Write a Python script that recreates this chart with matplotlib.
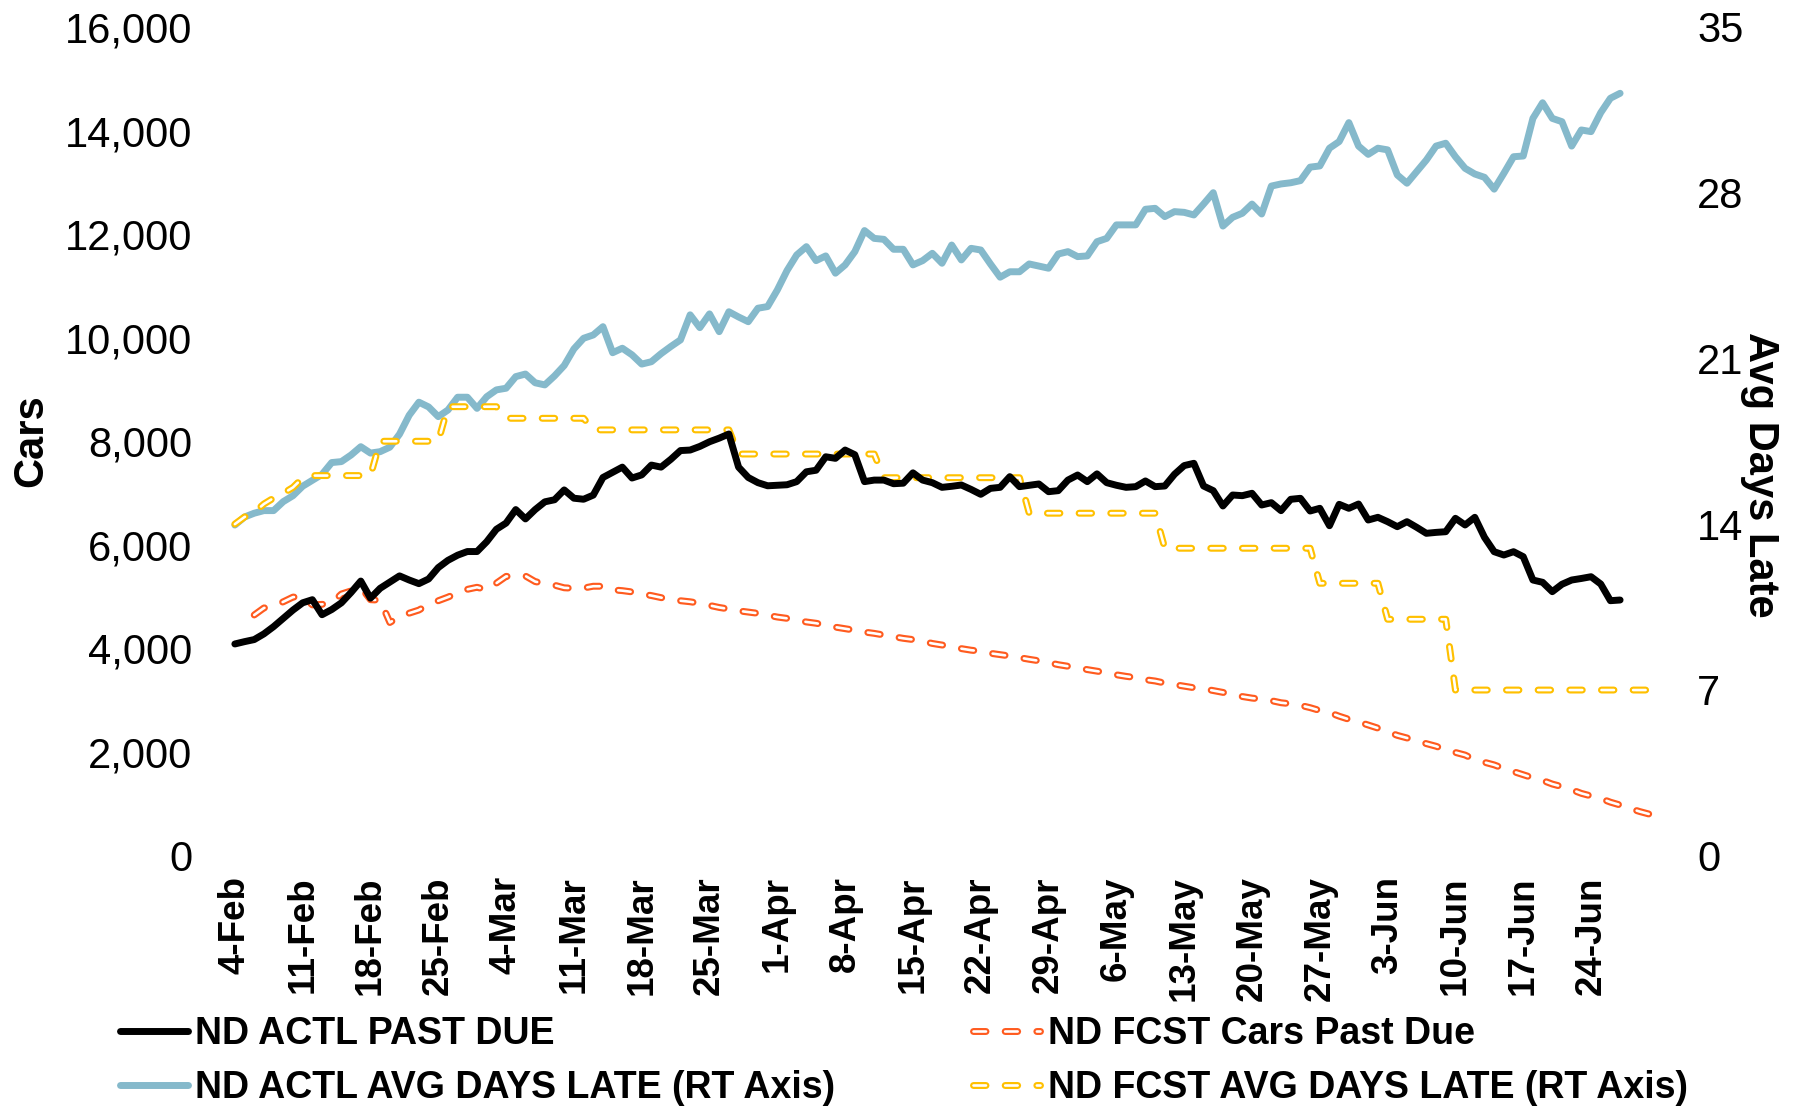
import matplotlib.pyplot as plt
import matplotlib.dates as mdates
import numpy as np
import pandas as pd
from matplotlib.ticker import FuncFormatter
from matplotlib.legend_handler import HandlerTuple

# fonts: Arial look-alike
plt.rcParams['font.family'] = ['Liberation Sans', 'DejaVu Sans']
plt.rcParams['lines.scale_dashes'] = False

# daily series, first day 4-Feb
actl_past_due = [
    4085, 4130, 4170, 4280, 4420, 4580, 4740, 4880, 4940, 4650,
    4750, 4880, 5080, 5300, 4970, 5160, 5280, 5400, 5320, 5250,
    5340, 5560, 5700, 5800, 5870, 5870, 6060, 6300, 6420, 6680,
    6500, 6680, 6830, 6870, 7060, 6900, 6880, 6960, 7300, 7400,
    7500, 7290, 7350, 7540, 7500, 7650, 7820, 7830, 7900, 7990,
    8060, 8140, 7500, 7300, 7200, 7140, 7150, 7160, 7220, 7410,
    7440, 7700, 7670, 7830, 7740, 7220, 7250, 7250, 7180, 7190,
    7390, 7250, 7200, 7110, 7130, 7155, 7070, 6975, 7090, 7110,
    7316, 7123, 7150, 7175, 7026, 7046, 7250, 7348, 7220, 7370,
    7200, 7150, 7110, 7123, 7233, 7123, 7136, 7362, 7530, 7574,
    7136, 7046, 6750, 6962, 6949, 6995, 6769, 6814, 6659, 6879,
    6898, 6653, 6705, 6369, 6782, 6705, 6788, 6479, 6531, 6447,
    6350, 6447, 6338, 6222, 6240, 6253, 6512, 6383, 6531, 6145,
    5867, 5803, 5867, 5771, 5320, 5276, 5095, 5238, 5320, 5350,
    5384, 5243, 4921, 4934,
]

actl_days_late = [
    13.96, 14.3, 14.46, 14.57, 14.57, 14.95, 15.2, 15.6, 15.85, 16.1,
    16.6, 16.64, 16.92, 17.27, 17.0, 17.06, 17.25, 17.8, 18.6, 19.15,
    18.95, 18.54, 18.82, 19.36, 19.36, 18.89, 19.38, 19.67, 19.74, 20.23,
    20.34, 19.97, 19.88, 20.26, 20.7, 21.4, 21.85, 21.99, 22.34, 21.24,
    21.43, 21.15, 20.76, 20.86, 21.2, 21.5, 21.78, 22.84, 22.3, 22.88,
    22.13, 22.97, 22.75, 22.55, 23.12, 23.19, 23.89, 24.71, 25.37, 25.72,
    25.13, 25.33, 24.6, 24.95, 25.51, 26.4, 26.07, 26.03, 25.61, 25.61,
    24.95, 25.13, 25.44, 25.02, 25.79, 25.16, 25.65, 25.58, 24.99, 24.43,
    24.66, 24.66, 24.99, 24.9, 24.81, 25.41, 25.51, 25.3, 25.33, 25.93,
    26.07, 26.64, 26.64, 26.64, 27.3, 27.34, 26.99, 27.2, 27.17, 27.06,
    27.52, 28.0, 26.59, 26.96, 27.13, 27.52, 27.1, 28.28, 28.37, 28.42,
    28.51, 29.08, 29.13, 29.88, 30.16, 30.96, 29.97, 29.62, 29.88, 29.81,
    28.75, 28.4, 28.89, 29.38, 29.97, 30.09, 29.52, 29.03, 28.79, 28.65,
    28.15, 28.82, 29.52, 29.55, 31.14, 31.8, 31.14, 31.0, 29.97, 30.65,
    30.58, 31.38, 31.99, 32.2,
]

# forecast cars past due, first day 6-Feb
fcst_past_due = [
    4645, 4780, 4820, 4900, 4990, 5000, 4840, 4850, 4880, 5050,
    5110, 5180, 4940, 4930, 4500, 4610, 4680, 4740, 4850, 4920,
    4990, 5070, 5140, 5180, 5130, 5260, 5390, 5395, 5398, 5290,
    5250, 5220, 5170, 5160, 5165, 5200, 5200, 5130, 5115, 5090,
    5050, 5020, 4980, 4950, 4920, 4900, 4870, 4830, 4790, 4760,
    4725, 4700, 4677, 4640, 4605, 4580, 4545, 4510, 4485, 4450,
    4410, 4380, 4350, 4315, 4290, 4258, 4225, 4194, 4170, 4140,
    4095, 4065, 4040, 3995, 3965, 3945, 3905, 3880, 3853, 3820,
    3789, 3760, 3725, 3685, 3655, 3625, 3590, 3560, 3530, 3490,
    3460, 3435, 3395, 3370, 3330, 3300, 3270, 3240, 3220, 3185,
    3150, 3115, 3070, 3040, 3020, 2990, 2950, 2930, 2900, 2855,
    2800, 2760, 2690, 2630, 2580, 2520, 2460, 2390, 2320, 2270,
    2217, 2160, 2110, 2040, 1990, 1940, 1850, 1800, 1750, 1680,
    1620, 1560, 1500, 1450, 1380, 1330, 1270, 1200, 1150, 1100,
    1030, 975, 910, 850, 800,
]

# forecast avg days late, first day 4-Feb
fcst_days_late = [
    14.0, 14.3, 14.5, 14.85, 15.1, 15.3, 15.55, 15.95,
    16.05, 16.05, 16.05, 16.05, 16.05, 16.05, 16.05,
    17.5, 17.5, 17.5, 17.5, 17.5, 17.5, 17.5,
    18.96, 18.96, 18.96, 18.96, 18.96, 18.96,
    18.47, 18.47, 18.47, 18.47, 18.47, 18.47, 18.47, 18.47, 18.47,
    17.98, 17.98, 17.98, 17.98, 17.98, 17.98, 17.98, 17.98,
    17.98, 17.98, 17.98, 17.98, 17.98, 17.98, 17.98,
    16.96, 16.96, 16.96, 16.96, 16.96, 16.96, 16.96, 16.96,
    16.96, 16.96, 16.96, 16.96, 16.96, 16.96, 16.96,
    15.96, 15.96, 15.96, 15.96, 15.96, 15.96, 15.96, 15.96,
    15.96, 15.96, 15.96, 15.96, 15.96, 15.96, 15.96,
    14.46, 14.46, 14.46, 14.46, 14.46, 14.46, 14.46,
    14.46, 14.46, 14.46, 14.46, 14.46, 14.46, 14.46,
    12.98, 12.98, 12.98, 12.98, 12.98, 12.98, 12.98, 12.98,
    12.98, 12.98, 12.98, 12.98, 12.98, 12.98, 12.98, 12.98,
    11.5, 11.5, 11.5, 11.5, 11.5, 11.5, 11.5,
    9.98, 9.98, 9.98, 9.98, 9.98, 9.98, 9.98,
    6.99, 6.99, 6.99, 6.99, 6.99, 6.99, 6.99, 6.99, 6.99, 6.99, 6.99,
    6.99, 6.99, 6.99, 6.99, 6.99, 6.99, 6.99, 6.99, 6.99, 6.99,
]

tick_days = pd.date_range('2019-02-04', '2019-06-24', freq='7D')
tick_labels = [f'{d.day}-{d:%b}' for d in tick_days]

series_labels = ['ND ACTL PAST DUE', 'ND ACTL AVG DAYS LATE (RT Axis)',
                 'ND FCST Cars Past Due', 'ND FCST AVG DAYS LATE (RT Axis)']


def to_num(first, values):
    days = pd.date_range(first, periods=len(values), freq='D')
    return mdates.date2num(days.to_pydatetime())


x_actl = to_num('2019-02-04', actl_past_due)
x_fcst_cars = to_num('2019-02-06', fcst_past_due)
x_fcst_days = to_num('2019-02-04', fcst_days_late)

BLACK = '#000000'
BLUE = '#85B9CB'
ORANGE = '#FF5B1F'
GOLD = '#FFC000'

W, H = 1795, 1107
fig = plt.figure(figsize=(W / 100, H / 100), dpi=100)
ax = fig.add_axes([230 / W, 1 - 855.5 / H, (1654 - 230) / W, (855.5 - 27) / H])
ax2 = ax.twinx()


def hollow(axis, x, y, color, z):
    # excel style double line: coloured dash with white core
    dash = (9.0, 13.8)
    kw = dict(dashes=dash, dash_capstyle='round', dash_joinstyle='round')
    outer, = axis.plot(x, y, color=color, lw=5.0, zorder=z, **kw)
    inner, = axis.plot(x, y, color='white', lw=1.9, zorder=z + 0.1, **kw)
    return (outer, inner)


h_blue, = ax2.plot(x_actl, actl_days_late, color=BLUE, lw=5.0,
                   solid_capstyle='round', solid_joinstyle='round', zorder=2)
h_gold = hollow(ax2, x_fcst_days, fcst_days_late, GOLD, 3)

h_orange = hollow(ax, x_fcst_cars, fcst_past_due, ORANGE, 2)
h_black, = ax.plot(x_actl, actl_past_due, color=BLACK, lw=5.0,
                   solid_capstyle='round', solid_joinstyle='round', zorder=4)

# left axis on top so the black line sits over the dashed lines
ax.set_zorder(ax2.get_zorder() + 1)
ax.patch.set_visible(False)

ax.set_xlim(x_fcst_days[0] - 0.5, x_fcst_days[-1] + 0.5)
ax.set_ylim(0, 16000)
ax2.set_ylim(0, 35)
ax.set_yticks(np.arange(0, 16001, 2000))
ax2.set_yticks(np.arange(0, 36, 7))
ax.yaxis.set_major_formatter(FuncFormatter(lambda v, p: f'{v:,.0f}'))

ax.set_xticks(mdates.date2num(tick_days.to_pydatetime()))
ax.set_xticklabels(tick_labels, rotation=90, fontsize=26.5, fontweight='bold')

ax.tick_params(axis='x', length=0, pad=15)
ax.tick_params(axis='y', length=0, pad=27, labelsize=30)
ax2.tick_params(axis='y', length=0, pad=31, labelsize=30)

for a in (ax, ax2):
    for s in a.spines.values():
        s.set_visible(False)

fig.text(31 / W, 1 - 441 / H, 'Cars', rotation=90, ha='center', va='center',
         fontsize=30, fontweight='bold')
fig.text(1760 / W, 1 - 475 / H, 'Avg Days Late', rotation=270, ha='center',
         va='center', fontsize=30, fontweight='bold')

fig.legend([h_black, h_blue, h_orange, h_gold], series_labels, ncol=2,
           loc='upper left', bbox_to_anchor=(120 / W, 1 - 1016 / H),
           frameon=False, prop={'weight': 'bold', 'size': 27},
           handlelength=1.8, handletextpad=0.2, columnspacing=3.67,
           labelspacing=0.49, borderpad=0, borderaxespad=0,
           handler_map={tuple: HandlerTuple(ndivide=1, pad=0)})

fig.savefig('out.png', dpi=100)
